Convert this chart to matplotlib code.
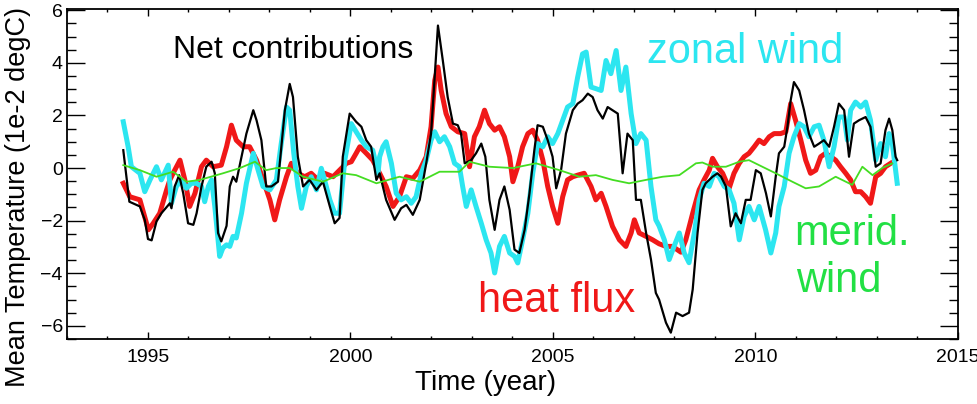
"""
Mean temperature contributions (net, heat flux, zonal wind, meridional wind).
"""

import matplotlib
matplotlib.use('Agg')
import matplotlib.pyplot as plt
from matplotlib.ticker import MultipleLocator

plt.rcParams['font.family'] = ['Liberation Sans', 'DejaVu Sans']

# ---- data ----
net_years = [
    1994.39, 1994.54, 1994.80, 1994.92, 1995.00, 1995.09, 1995.21, 1995.33, 1995.54, 1995.58,
    1995.66, 1995.77, 1995.87, 1995.99, 1996.12, 1996.20, 1996.32, 1996.44, 1996.57, 1996.65,
    1996.73, 1996.81, 1996.94, 1997.02, 1997.10, 1997.18, 1997.31, 1997.43, 1997.60, 1997.68,
    1997.80, 1997.92, 1998.05, 1998.21, 1998.38, 1998.50, 1998.58, 1998.70, 1998.83, 1998.99,
    1999.16, 1999.32, 1999.49, 1999.61, 1999.73, 1999.81, 1999.98, 2000.14, 2000.27, 2000.39,
    2000.51, 2000.64, 2000.72, 2000.88, 2001.09, 2001.25, 2001.38, 2001.54, 2001.71, 2001.87,
    2001.99, 2002.08, 2002.16, 2002.28, 2002.40, 2002.53, 2002.65, 2002.73, 2002.82, 2002.98,
    2003.10, 2003.23, 2003.33, 2003.43, 2003.56, 2003.68, 2003.80, 2003.93, 2004.05, 2004.17,
    2004.30, 2004.42, 2004.54, 2004.62, 2004.75, 2004.87, 2004.99, 2005.08, 2005.20, 2005.32,
    2005.49, 2005.61, 2005.73, 2005.86, 2005.98, 2006.10, 2006.23, 2006.35, 2006.47, 2006.60,
    2006.72, 2006.84, 2006.97, 2007.05, 2007.17, 2007.30, 2007.42, 2007.54, 2007.62, 2007.79,
    2007.91, 2008.04, 2008.20, 2008.36, 2008.45, 2008.57, 2008.69, 2008.77, 2008.86, 2008.94,
    2009.06, 2009.15, 2009.27, 2009.39, 2009.51, 2009.64, 2009.76, 2009.88, 2010.01, 2010.13,
    2010.26, 2010.38, 2010.50, 2010.58, 2010.71, 2010.79, 2010.87, 2010.95, 2011.08, 2011.20,
    2011.32, 2011.45, 2011.57, 2011.69, 2011.82, 2011.94, 2012.06, 2012.19, 2012.31, 2012.43,
    2012.56, 2012.72, 2012.84, 2012.97, 2013.09, 2013.21, 2013.30, 2013.38, 2013.46, 2013.50,
]
net_values = [
    0.68, -1.28, -1.46, -1.97, -2.70, -2.75, -2.03, -1.72, -1.34, -1.53,
    -0.70, -0.27, -0.96, -2.10, -2.16, -1.72, -0.71, 0.05, 0.24, -0.20,
    -2.47, -2.79, -2.20, -0.70, -0.33, -0.52, 0.43, 1.31, 2.20, 1.82,
    1.06, -0.70, -0.70, -0.52, 2.20, 3.20, 2.70, 0.43, -0.70, -0.45,
    -0.83, -0.52, -1.46, -2.10, -1.90, 0.43, 2.07, 1.76, 1.57, 1.06,
    0.81, -0.45, -0.20, -1.21, -1.97, -1.53, -1.40, -1.78, -1.21, 0.18,
    1.31, 3.46, 5.42, 4.09, 2.70, 1.69, 1.63, 1.31, 0.18, 0.30,
    0.56, 0.93, 0.43, -1.21, -2.35, -1.21, -0.70, -1.59, -3.10, -3.23,
    -2.35, -0.96, 0.68, 1.63, 1.57, 1.06, 0.43, -0.77, -0.08, 1.31,
    2.20, 2.45, 2.58, 2.83, 2.70, 2.20, 1.88, 2.32, 2.20, 2.07,
    -0.20, 1.31, 1.06, -1.21, -1.21, -2.47, -3.48, -4.75, -5.00, -5.88,
    -6.26, -5.50, -5.63, -5.50, -4.62, -2.47, -0.83, -0.58, -0.45, -0.33,
    -0.20, -0.33, -0.70, -2.22, -1.72, -2.10, -1.21, -1.21, -0.08, -0.20,
    -0.96, -1.84, -0.33, 0.56, 0.81, 1.57, 2.58, 3.27, 2.95, 2.20,
    1.31, 0.81, 0.93, 1.06, 0.81, 1.57, 2.45, 2.20, 0.43, 1.69,
    1.82, 1.94, 1.57, 0.05, 0.18, 1.44, 1.88, 1.44, 0.43, 0.30,
]

heat_years = [
    1994.39, 1994.55, 1994.80, 1995.01, 1995.13, 1995.29, 1995.46, 1995.54, 1995.66, 1995.79,
    1995.91, 1996.03, 1996.16, 1996.32, 1996.44, 1996.61, 1996.81, 1996.94, 1997.06, 1997.18,
    1997.35, 1997.51, 1997.68, 1997.84, 1998.01, 1998.13, 1998.25, 1998.42, 1998.54, 1998.70,
    1998.87, 1999.03, 1999.20, 1999.36, 1999.57, 1999.73, 1999.90, 2000.02, 2000.14, 2000.23,
    2000.39, 2000.55, 2000.72, 2000.88, 2001.05, 2001.21, 2001.38, 2001.54, 2001.71, 2001.87,
    2001.99, 2002.08, 2002.16, 2002.24, 2002.36, 2002.49, 2002.65, 2002.82, 2002.94, 2003.06,
    2003.18, 2003.31, 2003.43, 2003.56, 2003.68, 2003.80, 2003.93, 2004.01, 2004.13, 2004.25,
    2004.38, 2004.50, 2004.62, 2004.75, 2004.87, 2004.99, 2005.12, 2005.24, 2005.36, 2005.49,
    2005.61, 2005.77, 2005.94, 2006.06, 2006.19, 2006.31, 2006.47, 2006.64, 2006.80, 2006.93,
    2007.01, 2007.13, 2007.30, 2007.46, 2007.62, 2007.79, 2007.95, 2008.16, 2008.28, 2008.45,
    2008.61, 2008.73, 2008.86, 2008.94, 2009.06, 2009.19, 2009.35, 2009.47, 2009.60, 2009.72,
    2009.84, 2009.97, 2010.09, 2010.21, 2010.34, 2010.46, 2010.62, 2010.75, 2010.87, 2010.99,
    2011.12, 2011.24, 2011.36, 2011.49, 2011.61, 2011.73, 2011.86, 2011.98, 2012.10, 2012.23,
    2012.35, 2012.47, 2012.60, 2012.72, 2012.84, 2012.97, 2013.09, 2013.21, 2013.34,
]
heat_values = [
    -0.58, -1.09, -1.21, -2.35, -2.10, -1.72, -0.83, -0.45, -0.08, 0.30,
    -0.45, -1.46, -0.96, 0.05, 0.30, 0.05, 0.11, 0.81, 1.63, 1.06,
    0.81, 0.81, 0.30, -0.45, -1.21, -1.97, -1.21, -0.33, 0.18, -0.20,
    -0.33, -0.20, -0.45, -0.20, -0.33, -0.08, 0.18, 0.24, 0.56, 0.81,
    0.56, 0.30, -0.20, -0.70, -1.46, -1.09, -0.33, -0.39, -0.08, 0.43,
    1.57, 3.33, 3.84, 2.95, 2.07, 1.57, 1.38, 1.31, 0.05, 1.19,
    1.57, 2.20, 1.69, 1.44, 1.57, 1.19, 0.43, -0.52, 0.05, 0.81,
    1.31, 1.44, 1.06, 0.30, -0.70, -1.46, -2.10, -1.09, -0.45, -0.33,
    -0.27, -0.20, -0.70, -1.21, -0.96, -1.46, -2.22, -2.73, -2.98, -2.47,
    -1.97, -2.47, -2.60, -2.73, -2.88, -2.98, -2.98, -3.20, -2.73, -1.72,
    -0.83, -0.45, -0.08, 0.37, 0.05, -0.20, -0.77, -0.20, 0.18, 0.43,
    0.56, 0.81, 1.06, 0.93, 1.19, 1.31, 1.31, 1.38, 2.45, 1.82,
    1.06, 0.30, -0.20, -0.08, 0.43, 0.56, 0.43, 0.30, 0.05, -0.20,
    -0.45, -0.90, -0.90, -1.09, -1.34, -0.33, -0.20, 0.05, 0.18,
]

zonal_years = [
    1994.39, 1994.51, 1994.59, 1994.80, 1994.92, 1995.05, 1995.21, 1995.33, 1995.50, 1995.58,
    1995.70, 1995.83, 1995.95, 1996.07, 1996.20, 1996.32, 1996.40, 1996.49, 1996.57, 1996.65,
    1996.77, 1996.85, 1996.94, 1997.02, 1997.10, 1997.18, 1997.31, 1997.43, 1997.60, 1997.72,
    1997.84, 1998.01, 1998.17, 1998.29, 1998.42, 1998.50, 1998.60, 1998.70, 1998.79, 1998.91,
    1999.03, 1999.16, 1999.28, 1999.36, 1999.49, 1999.61, 1999.73, 1999.86, 2000.02, 2000.14,
    2000.27, 2000.39, 2000.55, 2000.68, 2000.72, 2000.80, 2000.88, 2001.01, 2001.13, 2001.25,
    2001.38, 2001.50, 2001.62, 2001.75, 2001.87, 2001.99, 2002.08, 2002.20, 2002.32, 2002.45,
    2002.57, 2002.69, 2002.77, 2002.86, 2002.98, 2003.10, 2003.23, 2003.35, 2003.47, 2003.56,
    2003.68, 2003.80, 2003.93, 2004.05, 2004.13, 2004.25, 2004.38, 2004.50, 2004.62, 2004.75,
    2004.87, 2004.99, 2005.12, 2005.24, 2005.36, 2005.49, 2005.61, 2005.73, 2005.82, 2005.94,
    2006.06, 2006.19, 2006.31, 2006.43, 2006.56, 2006.68, 2006.80, 2006.93, 2007.05, 2007.17,
    2007.30, 2007.42, 2007.54, 2007.62, 2007.75, 2007.87, 2007.99, 2008.12, 2008.24, 2008.36,
    2008.49, 2008.61, 2008.73, 2008.86, 2008.98, 2009.10, 2009.23, 2009.35, 2009.47, 2009.60,
    2009.72, 2009.84, 2009.97, 2010.09, 2010.25, 2010.38, 2010.50, 2010.58, 2010.71, 2010.83,
    2010.95, 2011.08, 2011.20, 2011.32, 2011.45, 2011.57, 2011.69, 2011.82, 2011.94, 2012.06,
    2012.19, 2012.27, 2012.35, 2012.47, 2012.60, 2012.72, 2012.84, 2012.97, 2013.09, 2013.21,
    2013.30, 2013.38, 2013.50,
]
zonal_values = [
    1.76, 0.81, 0.05, -0.20, -0.90, -0.45, 0.05, -0.45, 0.11, -1.34,
    -0.70, -0.45, -0.77, -0.58, -0.58, -0.70, -1.28, -0.70, -0.45, -1.46,
    -3.36, -3.04, -2.92, -2.98, -2.60, -2.66, -1.72, -0.58, 0.56, -0.08,
    -0.70, -0.83, -0.45, 0.93, 2.32, 2.20, 0.56, -0.70, -1.53, -0.70,
    -0.33, -0.83, -0.01, -0.45, -1.21, -1.72, -1.72, 0.30, 1.69, 1.38,
    1.06, 0.81, 0.68, -0.20, 0.43, 0.81, 1.00, 0.18, -0.96, -1.21,
    -1.09, -1.34, -1.09, -0.20, 0.30, 1.06, 1.38, 1.00, 1.19, 0.81,
    0.18, 0.05, -0.70, -1.46, -0.83, -1.46, -2.10, -2.73, -3.23, -3.99,
    -2.98, -2.60, -3.23, -3.36, -3.61, -2.73, -1.72, -0.20, 0.93, 0.81,
    1.19, 0.93, 1.31, 1.82, 2.32, 2.45, 3.46, 4.34, 4.41, 3.08,
    3.02, 2.95, 4.09, 3.59, 4.47, 2.95, 3.84, 2.07, 0.93, 1.31,
    1.06, -0.70, -1.97, -2.20, -2.73, -3.48, -2.98, -2.47, -3.23, -3.60,
    -2.47, -1.21, -0.58, -0.70, -0.20, -0.33, -0.70, -0.83, -1.34, -2.73,
    -1.84, -1.46, -1.97, -1.46, -2.35, -3.23, -2.47, -1.46, -0.70, 0.56,
    1.19, 1.69, 1.57, 1.19, 1.57, 1.63, 1.06, 0.05, 0.81, 1.94,
    1.94, 1.06, 2.20, 2.51, 2.32, 2.51, 1.82, 0.30, 0.93, 0.43,
    1.31, 0.93, -0.58,
]

merid_years = [
    1994.39, 1994.80, 1995.21, 1995.62, 1995.95, 1996.28, 1996.85, 1997.27, 1997.64, 1997.92,
    1998.17, 1998.50, 1998.83, 1999.32, 1999.81, 2000.14, 2000.64, 2001.21, 2001.71, 2002.20,
    2002.69, 2002.94, 2003.43, 2004.01, 2004.58, 2005.16, 2005.65, 2006.06, 2006.47, 2006.88,
    2007.30, 2007.71, 2008.12, 2008.53, 2008.69, 2008.94, 2009.27, 2009.60, 2009.84, 2010.09,
    2010.50, 2010.91, 2011.24, 2011.57, 2011.98, 2012.39, 2012.64, 2012.89, 2013.13, 2013.38,
]
merid_values = [
    0.11, -0.08, -0.33, -0.14, -0.52, -0.45, -0.20, 0.00, 0.24, -0.08,
    0.00, 0.00, -0.33, -0.52, -0.20, -0.27, -0.58, -0.33, -0.52, -0.14,
    -0.14, 0.24, 0.05, 0.00, 0.18, -0.08, -0.33, -0.27, -0.45, -0.58,
    -0.45, -0.33, -0.27, 0.18, 0.21, 0.05, 0.05, 0.24, 0.30, 0.11,
    -0.20, -0.52, -0.77, -0.70, -0.33, -0.64, 0.05, -0.27, 0.00, 0.18,
]

BLACK = 'black'
RED = '#F01818'
CYAN = '#2CE6F0'
GREEN_LINE = '#44DD22'
GREEN_TEXT = '#22E044'

fig = plt.figure(figsize=(9.78, 4.04), dpi=100)
ax = fig.add_axes([0.0685, 0.161, 0.911, 0.8168])

ax.plot(heat_years, heat_values, color=RED, lw=3.6, zorder=2)
ax.plot(zonal_years, zonal_values, color=CYAN, lw=3.6, zorder=3)
ax.plot(net_years, net_values, color=BLACK, lw=1.6, zorder=4)
ax.plot(merid_years, merid_values, color=GREEN_LINE, lw=1.3, zorder=5)

ax.text(1995.61, 4.17, 'Net contributions', color=BLACK, fontsize=23,
        ha='left', va='baseline')
ax.text(2009.74, 3.98, 'zonal wind', color=CYAN, fontsize=30,
        ha='center', va='baseline')
ax.text(2005.08, -5.49, 'heat flux', color=RED, fontsize=30,
        ha='center', va='baseline')
ax.text(2010.95, -2.92, 'merid.', color=GREEN_TEXT, fontsize=30,
        ha='left', va='baseline')
ax.text(2011.0, -4.70, 'wind', color=GREEN_TEXT, fontsize=30,
        ha='left', va='baseline')

ax.set_xlim(1993, 2015)
ax.set_ylim(-6.5, 6.05)
ax.xaxis.set_major_locator(MultipleLocator(5))
ax.xaxis.set_minor_locator(MultipleLocator(1))
ax.yaxis.set_major_locator(MultipleLocator(2))
ax.yaxis.set_minor_locator(MultipleLocator(0.5))

ax.tick_params(axis='both', which='both', direction='in', top=True, right=True,
               labelsize=14, width=1.0)
ax.tick_params(axis='x', which='major', length=5, pad=7)
ax.tick_params(axis='x', which='minor', length=2.5)
ax.tick_params(axis='y', which='major', length=13, pad=3)
ax.tick_params(axis='y', which='minor', length=6.5)
for side in ax.spines.values():
    side.set_linewidth(1.3)

ax.set_xlabel('Time (year)', fontsize=20)
ax.set_ylabel('Mean Temperature (1e-2 degC)', fontsize=19.5)
ax.xaxis.set_label_coords(0.47, -0.095)
ax.yaxis.set_label_coords(-0.04, 0.43)

plt.savefig('out.png', dpi=100)
